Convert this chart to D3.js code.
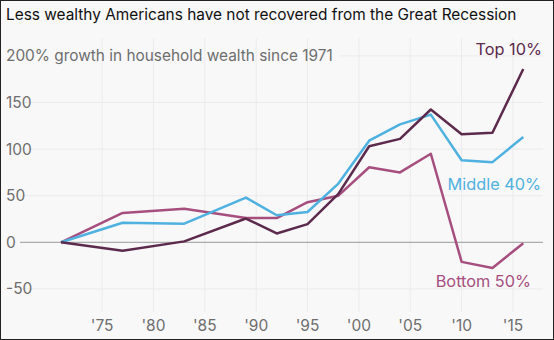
<!DOCTYPE html>
<html>
<head>
<meta charset="utf-8">
<script src="https://cdn.jsdelivr.net/npm/d3@7"></script>
<style>
  html, body { margin: 0; padding: 0; background: #fff; }
  svg { display: block; font-family: Inter, "Noto Sans", sans-serif; }
</style>
</head>
<body>
<div class="chart"></div>
<script>
// survey years and cumulative growth in household wealth (%), 1971 = 0
const years = [1971, 1977, 1983, 1989, 1992, 1995, 1998, 2001, 2004, 2007, 2010, 2013, 2016];
const top10 = [0, -9, 1, 25.5, 9.5, 19.5, 52, 103, 111, 142.5, 116, 117.5, 186];
const middle40 = [0, 21, 20, 48, 29, 32.5, 63, 109, 126.5, 137, 88, 86, 113];
const bottom50 = [0, 31.5, 36, 26, 26, 43, 50, 80.5, 75, 95, -21, -27.5, -1];
const seriesNames = ["Top 10%", "Middle 40%", "Bottom 50%"];
const yTicks = [-50, 0, 50, 100, 150, 200];
const xTicks = [1975, 1980, 1985, 1990, 1995, 2000, 2005, 2010, 2015];

const width = 554, height = 340;

const svg = d3.select(".chart").append("svg")
  .attr("width", width)
  .attr("height", height);

svg.append("rect")
  .attr("x", 0.5).attr("y", 0.5)
  .attr("width", width - 1).attr("height", height - 1)
  .attr("fill", "#f8f8f8")
  .attr("stroke", "#222");

const xScale = d3.scaleLinear()
  .domain([1971, 2015])
  .range([61, 513]);

const yScale = d3.scaleLinear()
  .domain([0, 150])
  .range([242.3, 102.5]);

const colors = {"Top 10%": "#5c2a4c", "Middle 40%": "#4fb1e0", "Bottom 50%": "#a64f7f"};

// vertical grid
svg.append("g")
  .selectAll("line")
  .data(xTicks)
  .enter()
  .append("line")
  .attr("x1", d => xScale(d)).attr("x2", d => xScale(d))
  .attr("y1", 38).attr("y2", 312)
  .attr("stroke", "#ebebeb");

// horizontal grid
svg.append("g")
  .selectAll("line")
  .data(yTicks)
  .enter()
  .append("line")
  .attr("x1", d => d == 200 ? 340 : 20).attr("x2", 543)
  .attr("y1", d => yScale(d)).attr("y2", d => yScale(d))
  .attr("stroke", d => d == 0 ? "#999" : "#ebebeb");

// y tick labels, the top one doubles as the subtitle
svg.append("g")
  .selectAll("text")
  .data(yTicks)
  .enter()
  .append("text")
  .attr("x", 6)
  .attr("y", d => yScale(d))
  .attr("dy", "0.35em")
  .attr("fill", "#6e6e6e")
  .attr("font-size", d => d == 200 ? 15.4 : 15.5)
  .text(d => d == 200 ? "200% growth in household wealth since 1971" : d);

// x tick labels
svg.append("g")
  .selectAll("text")
  .data(xTicks)
  .enter()
  .append("text")
  .attr("x", d => xScale(d))
  .attr("y", 331)
  .attr("text-anchor", "middle")
  .attr("fill", "#6e6e6e")
  .attr("font-size", 15.5)
  .text(d => "'" + String(d).slice(2));

const line = d3.line()
  .x((d, i) => xScale(years[i]))
  .y(d => yScale(d));

const seriesData = [top10, middle40, bottom50];

// draw bottom first so the top 10% line sits above
[2, 1, 0].forEach(i => {
  svg.append("path")
    .datum(seriesData[i])
    .attr("fill", "none")
    .attr("stroke", colors[seriesNames[i]])
    .attr("stroke-width", 2.5)
    .attr("stroke-linejoin", "round")
    .attr("d", line);
});

const labelPos = [[542, 55], [541, 190], [531, 287]];
seriesNames.forEach((name, i) => {
  svg.append("text")
    .attr("x", labelPos[i][0])
    .attr("y", labelPos[i][1])
    .attr("text-anchor", "end")
    .attr("fill", colors[name])
    .attr("font-size", 16.3)
    .text(name);
});

svg.append("text")
  .attr("x", 6)
  .attr("y", 20)
  .attr("fill", "#111")
  .attr("font-size", 15.4)
  .text("Less wealthy Americans have not recovered from the Great Recession");
</script>
</body>
</html>
